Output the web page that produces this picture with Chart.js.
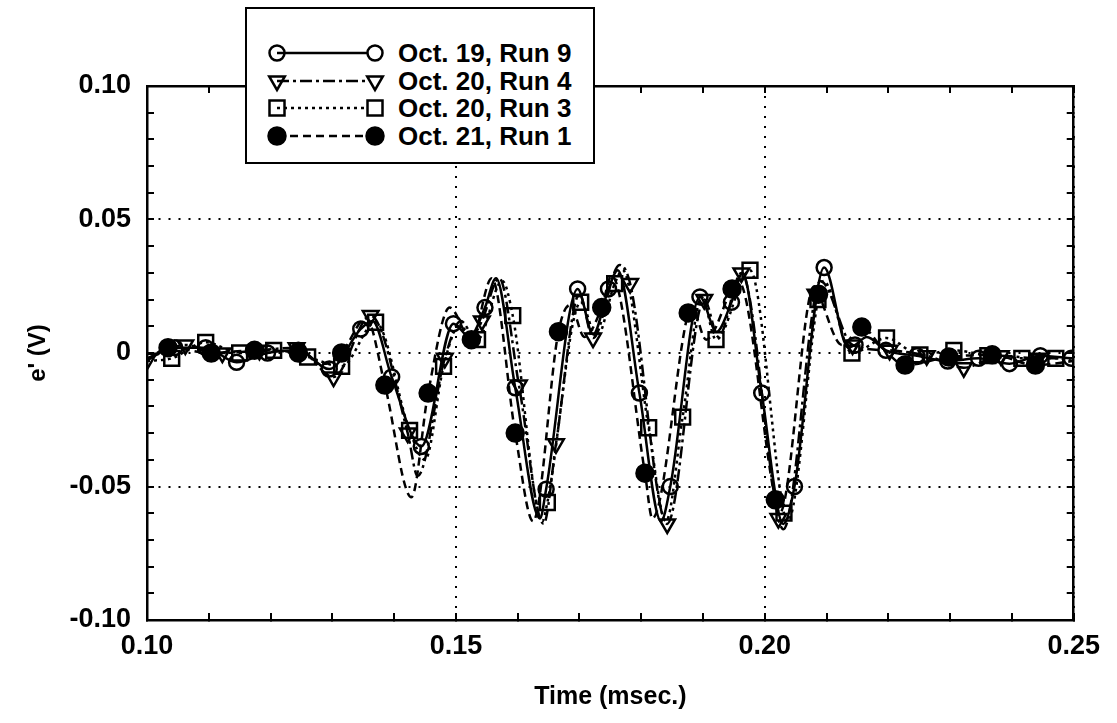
<!DOCTYPE html>
<html><head><meta charset="utf-8">
<script src="https://cdn.jsdelivr.net/npm/chart.js@4.4.1/dist/chart.umd.min.js"></script>
<style>
html,body{margin:0;padding:0;background:#fff;}
#wrap{position:relative;width:1117px;height:723px;}
#c{position:absolute;left:0;top:0;}
#legend{position:absolute;left:245px;top:7px;width:350px;height:157px;box-sizing:border-box;border:2px solid #000;background:#fff;font-family:"Liberation Sans",Arial,Helvetica,sans-serif;}
.row{position:absolute;left:0;height:28px;width:346px;}
.row svg{position:absolute;left:0;top:0;}
.row span{position:absolute;left:151px;top:0;line-height:28px;font-size:26px;font-weight:bold;color:#000;white-space:nowrap;}
</style></head>
<body><div id="wrap"><canvas id="c" width="1117" height="723"></canvas><div id="legend"></div></div>
<script>
// ---- tick values / labels ----
const xTicksMajor = [0.10, 0.15, 0.20, 0.25];
const xTickLabels = ['0.10', '0.15', '0.20', '0.25'];
const xTicksMinor = [0.11, 0.12, 0.13, 0.14, 0.16, 0.17, 0.18, 0.19, 0.21, 0.22, 0.23, 0.24];
const yTicksMajor = [-0.10, -0.05, 0, 0.05, 0.10];
const yTickLabels = ['-0.10', '-0.05', '0', '0.05', '0.10'];
const yTicksMinor = [-0.09, -0.08, -0.07, -0.06, -0.04, -0.03, -0.02, -0.01, 0.01, 0.02, 0.03, 0.04, 0.06, 0.07, 0.08, 0.09];

const seriesNames = ['Oct. 19, Run 9', 'Oct. 20, Run 4', 'Oct. 20, Run 3', 'Oct. 21, Run 1'];

// ---- Oct. 19, Run 9 ----
const run9Time = [0.1000,0.1045,0.1095,0.1145,0.1195,0.1245,0.1295,0.1346,0.1365,0.1396,0.1444,0.1496,0.1522,0.1547,0.1565,0.1596,0.1636,0.1646,0.1697,0.1722,0.1747,0.1762,0.1797,0.1832,0.1847,0.1895,0.1922,0.1946,0.1964,0.1995,0.2030,0.2048,0.2096,0.2135,0.2146,0.2165,0.2196,0.2246,0.2296,0.2346,0.2396,0.2446,0.2496];
const run9Volt = [-0.002,0.002,0.002,-0.0035,0.000,0.001,-0.006,0.009,0.012,-0.009,-0.035,0.011,0.006,0.017,0.028,-0.013,-0.062,-0.051,0.024,0.007,0.024,0.031,-0.015,-0.063,-0.050,0.021,0.008,0.019,0.030,-0.015,-0.064,-0.050,0.032,0.002,0.003,0.006,0.001,-0.001,-0.003,-0.002,-0.004,-0.001,-0.002];
const run9Marks = [0.1045,0.1095,0.1145,0.1195,0.1245,0.1295,0.1346,0.1396,0.1444,0.1496,0.1547,0.1596,0.1646,0.1697,0.1747,0.1797,0.1847,0.1895,0.1946,0.1995,0.2048,0.2096,0.2146,0.2196,0.2246,0.2296,0.2346,0.2396,0.2446,0.2496];

// ---- Oct. 20, Run 4 ----
const run4Time = [0.1002,0.1062,0.1122,0.1182,0.1242,0.1302,0.1362,0.1422,0.1438,0.1482,0.1508,0.1528,0.1542,0.1570,0.1602,0.1642,0.1662,0.1700,0.1722,0.1765,0.1782,0.1842,0.1902,0.1925,0.1962,0.2022,0.2030,0.2082,0.2090,0.2142,0.2202,0.2262,0.2322,0.2382,0.2442,0.2500];
const run4Volt = [-0.002,0.003,0.000,0.001,0.002,-0.009,0.014,-0.030,-0.046,-0.002,0.012,0.007,0.012,0.028,-0.012,-0.064,-0.034,0.022,0.0056,0.033,0.026,-0.064,0.020,0.006,0.030,-0.062,-0.066,0.022,0.027,0.003,0.001,-0.001,-0.0055,-0.001,-0.002,-0.002];
const run4Marks = [0.1002,0.1062,0.1122,0.1182,0.1242,0.1302,0.1362,0.1422,0.1482,0.1542,0.1602,0.1662,0.1722,0.1782,0.1842,0.1902,0.1962,0.2022,0.2082,0.2142,0.2202,0.2262,0.2322,0.2382,0.2442];

// ---- Oct. 20, Run 3 ----
const run3Time = [0.1000,0.1040,0.1095,0.1150,0.1205,0.1260,0.1315,0.1370,0.1425,0.1450,0.1480,0.1505,0.1535,0.1575,0.1592,0.1640,0.1648,0.1702,0.1728,0.1757,0.1770,0.1812,0.1840,0.1867,0.1898,0.1921,0.1976,0.2031,0.2037,0.2086,0.2095,0.2141,0.2197,0.2251,0.2306,0.2361,0.2416,0.2471,0.2500];
const run3Volt = [-0.003,-0.002,0.004,0.000,0.001,-0.0015,-0.005,0.0115,-0.029,-0.040,-0.005,0.010,0.005,0.027,0.014,-0.063,-0.056,0.019,0.006,0.026,0.031,-0.028,-0.063,-0.024,0.021,0.005,0.031,-0.060,-0.063,0.020,0.027,0.000,0.0056,-0.0007,0.001,-0.001,-0.002,-0.002,-0.003];
const run3Marks = [0.1040,0.1095,0.1150,0.1205,0.1260,0.1315,0.1370,0.1425,0.1480,0.1535,0.1592,0.1648,0.1702,0.1757,0.1812,0.1867,0.1921,0.1976,0.2031,0.2086,0.2141,0.2197,0.2251,0.2306,0.2361,0.2416,0.2471];

// ---- Oct. 21, Run 1 ----
const run1Time = [0.1000,0.1034,0.1104,0.1174,0.1245,0.1290,0.1315,0.1355,0.1385,0.1428,0.1455,0.1490,0.1525,0.1558,0.1596,0.1625,0.1666,0.1685,0.1708,0.1736,0.1752,0.1806,0.1818,0.1876,0.1882,0.1905,0.1947,0.1957,0.2017,0.2024,0.2080,0.2087,0.2125,0.2157,0.2190,0.2227,0.2298,0.2368,0.2438,0.2500];
const run1Volt = [-0.003,0.002,0.000,0.001,0.000,-0.004,0.000,0.013,-0.012,-0.054,-0.015,0.017,0.005,0.028,-0.030,-0.063,0.008,0.018,0.006,0.017,0.029,-0.045,-0.062,0.015,0.017,0.005,0.024,0.027,-0.055,-0.060,0.025,0.022,0.003,0.0097,0.002,-0.0045,-0.0015,-0.0007,-0.0045,-0.003];
const run1Marks = [0.1034,0.1104,0.1174,0.1245,0.1315,0.1385,0.1455,0.1525,0.1596,0.1666,0.1736,0.1806,0.1876,0.1947,0.2017,0.2087,0.2157,0.2227,0.2298,0.2368,0.2438];

// ---- styles (kept separate from data) ----
const seriesStyles = [
  {dash: [], point: 'circle', radius: 7.5, fill: 'rgba(255,255,255,0)', rot: 0},
  {dash: [12, 4, 3, 4], point: 'triangle', radius: 9, fill: 'rgba(255,255,255,0)', rot: 180},
  {dash: [3, 4], point: 'rect', radius: 10.5, fill: 'rgba(255,255,255,0)', rot: 0},
  {dash: [8, 5], point: 'circle', radius: 8.5, fill: '#000', rot: 0}
];
const seriesData = [
  [run9Time, run9Volt, run9Marks],
  [run4Time, run4Volt, run4Marks],
  [run3Time, run3Volt, run3Marks],
  [run1Time, run1Volt, run1Marks]
];

const FONT = '"Liberation Sans", Arial, Helvetica, sans-serif';
const near = (a, b) => Math.abs(a - b) < 1e-9;

function linePts(t, v) { return t.map((x, i) => ({x: x, y: v[i]})); }
function markPts(t, v, m) {
  return m.map(mt => { const i = t.findIndex(x => near(x, mt)); return {x: t[i], y: v[i]}; });
}

const datasets = [];
seriesData.forEach((s, k) => {
  const st = seriesStyles[k];
  datasets.push({
    label: seriesNames[k] + ' line', data: linePts(s[0], s[1]), showLine: true,
    borderColor: '#000', borderWidth: 2.5, borderDash: st.dash, pointRadius: 0,
    fill: false, cubicInterpolationMode: 'monotone', order: 2
  });
  datasets.push({
    label: seriesNames[k], data: markPts(s[0], s[1], s[2]), showLine: false,
    pointStyle: st.point, pointRadius: st.radius, pointRotation: st.rot,
    pointBorderColor: '#000', pointBorderWidth: 2.5, pointBackgroundColor: st.fill, order: 1
  });
});

const allX = xTicksMajor.concat(xTicksMinor).sort((a, b) => a - b);
const allY = yTicksMajor.concat(yTicksMinor).sort((a, b) => a - b);
const isMajor = (list, v) => list.some(m => near(m, v));
function labelFor(list, labels, v) { const i = list.findIndex(m => near(m, v)); return i >= 0 ? labels[i] : ''; }

function axisCommon(vals, major) {
  return {
    type: 'linear',
    afterBuildTicks: sc => { sc.ticks = vals.map(v => ({value: v})); },
    grid: {
      display: true,
      color: c => (c.tick && isMajor(major, c.tick.value)) ? '#000' : 'rgba(0,0,0,0)',
      lineWidth: 2, tickLength: -7, tickColor: '#000', tickWidth: 2
    },
    border: {display: true, color: '#000', width: 2.5, dash: [2, 8]}
  };
}

const xAxis = Object.assign(axisCommon(allX, xTicksMajor), {
  position: 'bottom', min: 0.10, max: 0.25,
  afterFit: sc => { sc.height = 103; },
  ticks: {autoSkip: false, maxRotation: 0, minRotation: 0, padding: 17, color: '#000',
    font: {family: FONT, size: 27, weight: 'bold'},
    callback: v => labelFor(xTicksMajor, xTickLabels, v)},
  title: {display: true, text: 'Time (msec.)', color: '#000',
    font: {family: FONT, size: 25, weight: 'bold'}, padding: {top: 0, bottom: 11}}
});
const yAxis = Object.assign(axisCommon(allY, yTicksMajor), {
  position: 'left', min: -0.10, max: 0.10,
  afterFit: sc => { sc.width = 147; },
  ticks: {autoSkip: false, padding: 23, color: '#000',
    font: {family: FONT, size: 27, weight: 'bold'},
    callback: v => labelFor(yTicksMajor, yTickLabels, v)},
  title: {display: true, text: "e' (V)", color: '#000',
    font: {family: FONT, size: 24, weight: 'bold'}, padding: {top: 24, bottom: 0}}
});
const x2Axis = Object.assign(axisCommon(allX, xTicksMajor), {
  position: 'top', min: 0.10, max: 0.25,
  afterFit: sc => { sc.height = 0; },
  ticks: {display: false}
});
x2Axis.grid.drawOnChartArea = false;
const y2Axis = Object.assign(axisCommon(allY, yTicksMajor), {
  position: 'right', min: -0.10, max: 0.10,
  afterFit: sc => { sc.width = 0; },
  ticks: {display: false}
});
y2Axis.grid.drawOnChartArea = false;

new Chart(document.getElementById('c'), {
  type: 'scatter',
  data: {datasets: datasets},
  options: {
    responsive: false, animation: false, events: [],
    layout: {padding: {top: 86, right: 38, left: 0, bottom: 0}},
    plugins: {legend: {display: false}, tooltip: {enabled: false}},
    scales: {x: xAxis, y: yAxis, x2: x2Axis, y2: y2Axis}
  }
});

// ---- legend (HTML) ----
const legend = document.getElementById('legend');
const rowCenters = [44, 72, 99, 127];
seriesNames.forEach((name, k) => {
  const st = seriesStyles[k];
  const row = document.createElement('div');
  row.className = 'row';
  row.style.top = (rowCenters[k] - 14) + 'px';
  const lx = 30, rx = 128, cy = 14;
  function marker(cx) {
    if (st.point === 'circle') return `<circle cx="${cx}" cy="${cy}" r="${k === 3 ? 8.5 : 7.5}" fill="${k === 3 ? '#000' : '#fff'}" stroke="#000" stroke-width="2.5"/>`;
    if (st.point === 'rect') return `<rect x="${cx - 7.5}" y="${cy - 7.5}" width="15" height="15" fill="#fff" stroke="#000" stroke-width="2.5"/>`;
    return `<polygon points="${cx - 7.8},${cy - 4.5} ${cx + 7.8},${cy - 4.5} ${cx},${cy + 9}" fill="#fff" stroke="#000" stroke-width="2.5"/>`;
  }
  const dash = st.dash.length ? `stroke-dasharray="${st.dash.join(',')}"` : '';
  row.innerHTML = `<svg width="150" height="28">${marker(lx)}<line x1="${lx}" y1="${cy}" x2="${rx - 8}" y2="${cy}" stroke="#000" stroke-width="2.5" ${dash}/>${marker(rx)}</svg><span>${name}</span>`;
  legend.appendChild(row);
});
</script>
</body></html>
